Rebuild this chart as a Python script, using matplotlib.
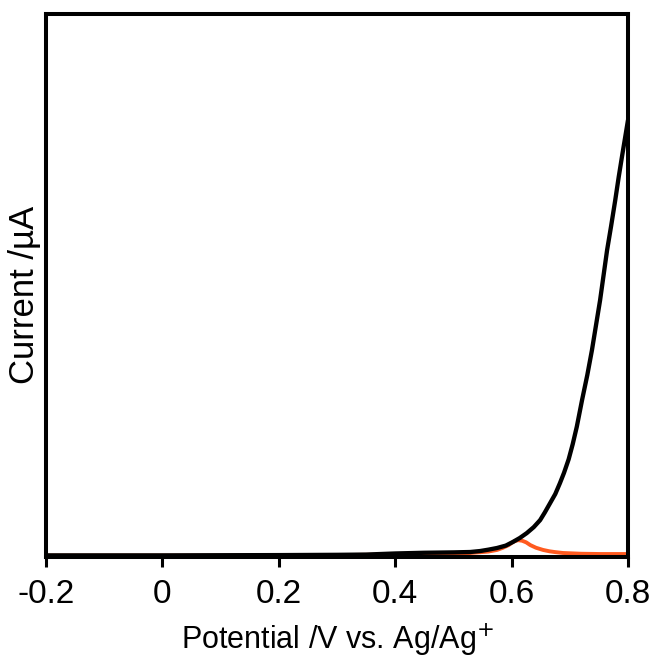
import numpy as np
import matplotlib
matplotlib.use("Agg")
import matplotlib.pyplot as plt

plt.rcParams['font.family'] = ['Liberation Sans', 'DejaVu Sans']
plt.rcParams['axes.unicode_minus'] = False

# potential (V vs. Ag/Ag+) and current (arbitrary)
black_v = [-0.2, 0.0, 0.2, 0.3, 0.35, 0.4, 0.45, 0.5, 0.529, 0.546, 0.56, 0.575,
           0.59, 0.602, 0.614, 0.626, 0.638, 0.649, 0.657, 0.666, 0.675, 0.683,
           0.69, 0.698, 0.705, 0.712, 0.721, 0.73, 0.738, 0.745, 0.752, 0.758,
           0.764, 0.771, 0.778, 0.784, 0.79, 0.8]
black_i = [0.3, 0.3, 0.35, 0.4, 0.45, 0.65, 0.78, 0.85, 0.92, 1.1, 1.35, 1.66,
           2.1, 2.76, 3.5, 4.4, 5.5, 6.8, 8.2, 9.9, 11.6, 13.6,
           15.5, 18.0, 20.8, 24.0, 28.9, 33.5, 38.1, 42.7, 47.3, 51.9,
           56.5, 61.0, 65.7, 70.0, 74.0, 80.5]

orange_v = [-0.2, 0.1, 0.2, 0.3, 0.4, 0.5, 0.529, 0.56, 0.575, 0.585, 0.595, 0.6,
            0.605, 0.611, 0.618, 0.625, 0.632, 0.642, 0.648, 0.654, 0.665, 0.675,
            0.688, 0.72, 0.753, 0.8]
orange_i = [0.25, 0.25, 0.3, 0.35, 0.45, 0.6, 0.74, 1.0, 1.3, 1.7, 2.2, 2.6,
            2.9, 3.1, 3.0, 2.7, 2.2, 1.7, 1.5, 1.3, 1.05, 0.9,
            0.74, 0.6, 0.55, 0.55]

xticks = [-0.2, 0, 0.2, 0.4, 0.6, 0.8]
xtick_labels = ['-0.2', '0', '0.2', '0.4', '0.6', '0.8']

fig = plt.figure(figsize=(6.51, 6.58), dpi=100)
ax = fig.add_axes([0.0707, 0.1535, 0.894, 0.825])

ax.plot(orange_v, orange_i, color='#ff5a1f', lw=2.8, solid_capstyle='butt')
ax.plot(black_v, black_i, color='black', lw=3.1, solid_capstyle='butt')

ax.set_xlim(-0.2, 0.8)
ax.set_ylim(0, 100)
ax.set_xticks(xticks)
ax.set_xticklabels(xtick_labels, fontsize=24)
ax.set_yticks([])

for s in ax.spines.values():
    s.set_linewidth(2.9)
ax.tick_params(axis='x', direction='out', length=7, width=2.2, pad=9)

ax.set_xlabel('Potential /V vs. Ag/Ag$^{+}$', fontsize=22, labelpad=8)
ax.set_ylabel('Current /µA', fontsize=25)
ax.yaxis.set_label_coords(-0.008, 0.4825)

fig.savefig('out.png', dpi=100)
